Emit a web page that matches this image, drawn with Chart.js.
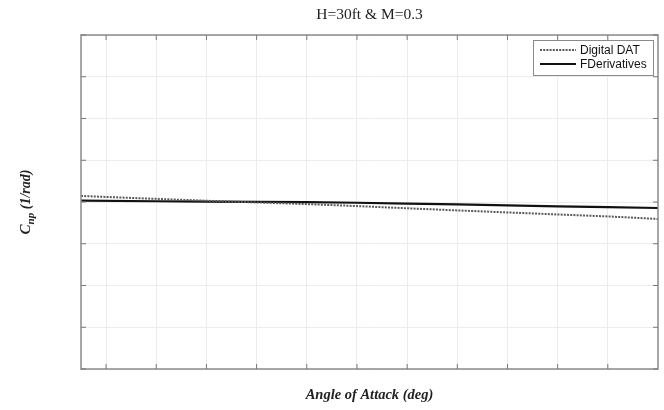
<!DOCTYPE html>
<html>
<head>
<meta charset="utf-8">
<script src="https://cdn.jsdelivr.net/npm/chart.js@4.4.1/dist/chart.umd.min.js"></script>
<style>
  html, body { margin: 0; padding: 0; background: #fff; }
  #wrap { width: 664px; height: 410px; }
</style>
</head>
<body>
<div id="wrap"><canvas id="chart" width="664" height="410"></canvas></div>
<script>
// ---- datos ----
const alphaDeg = [-5, -2, 0, 2, 4, 6, 8, 10, 12, 14, 16, 18];
const digitalDat = [0.0144, 0.0075, 0.0030, -0.0010, -0.0050, -0.0098, -0.0150, -0.0202, -0.0250, -0.0298, -0.0345, -0.0407];
const fDerivatives = [0.0031, 0.0018, 0.0010, 0.0004, -0.0005, -0.0018, -0.0038, -0.0058, -0.0080, -0.0105, -0.0125, -0.0144];
const xTicks = [-4, -2, 0, 2, 4, 6, 8, 10, 12, 14, 16];
const seriesNames = ['Digital DAT', 'FDerivatives'];
const chartTitle = 'H=30ft & M=0.3';
const xTitle = 'Angle of Attack (deg)';

const serif = '"Liberation Serif", "DejaVu Serif", serif';
const sans = '"Liberation Sans", Arial, sans-serif';

// marcas de escala hacia dentro, titulos y leyenda estilo Matlab
const matlabDecor = {
    id: 'matlabDecor',
    afterDraw(chart) {
        const ctx = chart.ctx;
        const a = chart.chartArea;
        const xs = chart.scales.x, ys = chart.scales.y;
        ctx.save();

        // marco
        ctx.strokeStyle = '#8a8a8a';
        ctx.lineWidth = 1.5;
        ctx.strokeRect(a.left, a.top, a.right - a.left, a.bottom - a.top);

        // ticks
        const len = 5;
        ctx.lineWidth = 1;
        ctx.strokeStyle = '#777';
        ctx.beginPath();
        xs.ticks.forEach(t => {
            const px = xs.getPixelForValue(t.value);
            ctx.moveTo(px, a.top); ctx.lineTo(px, a.top + len);
            ctx.moveTo(px, a.bottom); ctx.lineTo(px, a.bottom - len);
        });
        ys.ticks.forEach(t => {
            const py = ys.getPixelForValue(t.value);
            ctx.moveTo(a.left, py); ctx.lineTo(a.left + len, py);
            ctx.moveTo(a.right, py); ctx.lineTo(a.right - len, py);
        });
        ctx.stroke();

        // titulo
        ctx.fillStyle = '#222';
        ctx.textAlign = 'center';
        ctx.textBaseline = 'middle';
        ctx.font = '15.5px ' + serif;
        ctx.fillText(chartTitle, (a.left + a.right) / 2, 15);

        // titulo eje x
        ctx.font = 'bold italic 14.5px ' + serif;
        ctx.fillText(xTitle, (a.left + a.right) / 2, 395);

        // titulo eje y con subindice
        ctx.translate(25, (a.top + a.bottom) / 2);
        ctx.rotate(-Math.PI / 2);
        ctx.textAlign = 'left';
        ctx.textBaseline = 'alphabetic';
        const partC = 'C', partSub = 'np', partRest = ' (1/rad)';
        ctx.font = 'bold italic 15px ' + serif;
        const wC = ctx.measureText(partC).width;
        ctx.font = 'bold italic 11px ' + serif;
        const wSub = ctx.measureText(partSub).width;
        ctx.font = 'bold italic 14px ' + serif;
        const wRest = ctx.measureText(partRest).width;
        let x0 = -(wC + wSub + wRest) / 2;
        ctx.font = 'bold italic 15px ' + serif;
        ctx.fillText(partC, x0, 5);
        ctx.font = 'bold italic 11px ' + serif;
        ctx.fillText(partSub, x0 + wC, 9);
        ctx.font = 'bold italic 14px ' + serif;
        ctx.fillText(partRest, x0 + wC + wSub, 5);
        ctx.setTransform(1, 0, 0, 1, 0, 0);

        // leyenda
        const bx = a.right - 125, by = a.top + 5, bw = 120, bh = 35;
        ctx.fillStyle = '#fff';
        ctx.fillRect(bx, by, bw, bh);
        ctx.strokeStyle = '#8a8a8a';
        ctx.lineWidth = 1;
        ctx.strokeRect(bx + 0.5, by + 0.5, bw, bh);
        ctx.font = '12px ' + sans;
        ctx.textAlign = 'left';
        ctx.textBaseline = 'middle';
        chart.data.datasets.forEach((ds, i) => {
            const ly = by + 10 + i * 14;
            ctx.beginPath();
            ctx.strokeStyle = ds.borderColor;
            ctx.lineWidth = ds.borderWidth;
            ctx.setLineDash(ds.borderDash || []);
            ctx.moveTo(bx + 7, ly); ctx.lineTo(bx + 43, ly);
            ctx.stroke();
            ctx.setLineDash([]);
            ctx.fillStyle = '#111';
            ctx.fillText(ds.label, bx + 47, ly + 0.5);
        });
        ctx.restore();
    }
};

new Chart(document.getElementById('chart').getContext('2d'), {
    type: 'line',
    data: {
        labels: alphaDeg,
        datasets: [
            {
                label: seriesNames[0],
                data: alphaDeg.map((x, i) => ({ x: x, y: digitalDat[i] })),
                borderColor: '#5a5a5a',
                borderWidth: 2,
                borderDash: [2, 1.2],
                pointRadius: 0,
                tension: 0
            },
            {
                label: seriesNames[1],
                data: alphaDeg.map((x, i) => ({ x: x, y: fDerivatives[i] })),
                borderColor: '#111',
                borderWidth: 2.2,
                pointRadius: 0,
                tension: 0
            }
        ]
    },
    options: {
        responsive: false,
        animation: false,
        layout: { padding: { left: 81, right: 6, top: 35, bottom: 41 } },
        plugins: {
            legend: { display: false },
            title: { display: false },
            tooltip: { enabled: false }
        },
        scales: {
            x: {
                type: 'linear',
                min: -5,
                max: 18,
                afterBuildTicks: (scale) => { scale.ticks = xTicks.map(v => ({ value: v })); },
                ticks: { display: false },
                grid: { color: '#ececec', lineWidth: 1, drawTicks: false },
                border: { display: false }
            },
            y: {
                type: 'linear',
                min: -0.4,
                max: 0.4,
                ticks: { display: false, stepSize: 0.1 },
                grid: { color: '#ececec', lineWidth: 1, drawTicks: false },
                border: { display: false }
            }
        }
    },
    plugins: [matlabDecor]
});
</script>
</body>
</html>
